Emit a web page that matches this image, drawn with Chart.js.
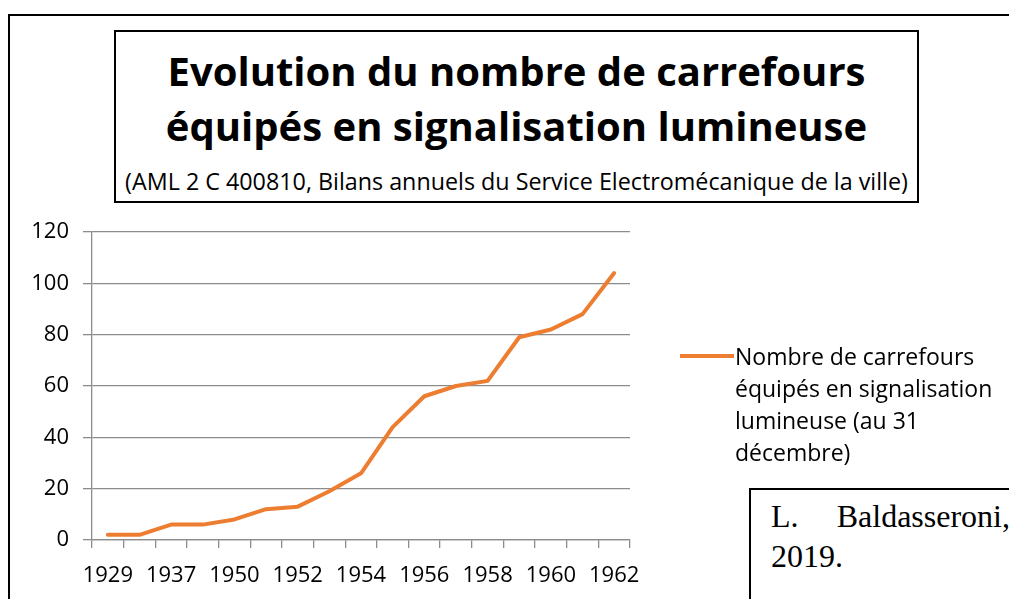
<!DOCTYPE html>
<html>
<head>
<meta charset="utf-8">
<script src="https://cdn.jsdelivr.net/npm/chart.js@4/dist/chart.umd.min.js"></script>
<style>
  html, body { margin: 0; padding: 0; background: #fff; }
  #page { position: relative; width: 1009px; height: 599px; overflow: hidden; font-family: "Open Sans", sans-serif; }
  #frame { position: absolute; left: 8px; top: 14px; width: 1100px; height: 700px; border-left: 2px solid #000; border-top: 2px solid #000; }
  #titleBox { position: absolute; left: 114px; top: 30px; width: 801px; height: 169px; border: 2px solid #000; background: #fff; text-align: center; }
  #titleBox .t { font-weight: bold; font-size: 40px; line-height: 55px; color: #000; }
  #titleBox .l1 { position: absolute; left: 0; right: 0; top: 11px; }
  #titleBox .l2 { position: absolute; left: 0; right: 0; top: 66px; }
  #titleBox .sub { position: absolute; left: 0; right: 0; top: 134px; font-size: 23.3px; line-height: 30px; white-space: nowrap; }
  #chartWrap { position: absolute; left: 0; top: 0; width: 1009px; height: 599px; }
  #legend { position: absolute; left: 680px; top: 340px; }
  #legend .swatch { position: absolute; left: 0; top: 14px; width: 54px; height: 4px; background: #ED7D31; }
  #legend .txt { position: absolute; left: 55px; top: 0; width: 320px; font-size: 23px; line-height: 32px; color: #000; white-space: nowrap; }
  #credit { position: absolute; left: 749px; top: 488px; width: 400px; height: 200px; border-left: 2px solid #000; border-top: 2px solid #000; background: #fff; }
  #credit .txt { position: absolute; left: 20px; top: 6px; width: 239px; font-family: "Liberation Serif", "Times New Roman", serif; font-size: 32px; line-height: 40px; text-align: justify; text-align-last: left; color: #000; }
</style>
</head>
<body>
<div id="page">
  <div id="frame"></div>
  <div id="chartWrap"><canvas id="lineChart"></canvas></div>
  <div id="titleBox">
    <div class="t l1">Evolution du nombre de carrefours</div>
    <div class="t l2">équipés en signalisation lumineuse</div>
    <div class="sub">(AML 2 C 400810, Bilans annuels du Service Electromécanique de la ville)</div>
  </div>
  <div id="legend">
    <div class="swatch"></div>
    <div class="txt" id="legendText"></div>
  </div>
  <div id="credit"><div class="txt">L. Baldasseroni, 2019.</div></div>
</div>
<script>
// années (seules les années paires de l'axe sont lisibles sur l'original)
const years = ['1929', '1935', '1937', '1946', '1950', '1951', '1952', '1953', '1954', '1955', '1956', '1957', '1958', '1959', '1960', '1961', '1962'];
const carrefours = [2, 2, 6, 6, 8, 12, 13, 19, 26, 44, 56, 60, 62, 79, 82, 88, 104];
const yTicks = [0, 20, 40, 60, 80, 100, 120];
const seriesLabel = 'Nombre de carrefours équipés en signalisation lumineuse (au 31 décembre)';
const legendLines = ['Nombre de carrefours', 'équipés en signalisation', 'lumineuse (au 31', 'décembre)'];

document.getElementById('legendText').innerHTML = legendLines.join('<br>');

const gridColor = '#8c8c8c';
const tickFont = { family: 'Open Sans', size: 22 };

new Chart(document.getElementById('lineChart'), {
    type: 'line',
    data: {
        labels: years,
        datasets: [{
            label: seriesLabel,
            data: carrefours,
            borderColor: '#ED7D31',
            backgroundColor: '#ED7D31',
            borderWidth: 4,
            pointRadius: 0,
            tension: 0,
            borderCapStyle: 'round',
            borderJoinStyle: 'round'
        }]
    },
    options: {
        responsive: true,
        maintainAspectRatio: false,
        animation: false,
        layout: { padding: { left: 0, right: 379, top: 232, bottom: 0 } },
        plugins: { legend: { display: false }, tooltip: { enabled: false } },
        scales: {
            x: {
                offset: true,
                grid: { offset: true, drawOnChartArea: false, drawTicks: true, tickLength: 8, color: gridColor, lineWidth: 1.3 },
                border: { color: gridColor, width: 1.3 },
                ticks: {
                    autoSkip: false,
                    maxRotation: 0,
                    padding: 15,
                    color: '#000',
                    font: tickFont,
                    callback: function(v, i) { return i % 2 === 0 ? years[i] : ''; }
                },
                afterFit: function(scale) { scale.height = 59; }
            },
            y: {
                min: yTicks[0],
                max: yTicks[yTicks.length - 1],
                afterBuildTicks: function(scale) { scale.ticks = yTicks.map(v => ({ value: v })); },
                grid: { color: gridColor, lineWidth: 1.3, tickLength: 9 },
                border: { color: gridColor, width: 1.3 },
                ticks: { padding: 14, color: '#000', font: tickFont },
                afterFit: function(scale) { scale.width = 92; }
            }
        }
    }
});
</script>
</body>
</html>
